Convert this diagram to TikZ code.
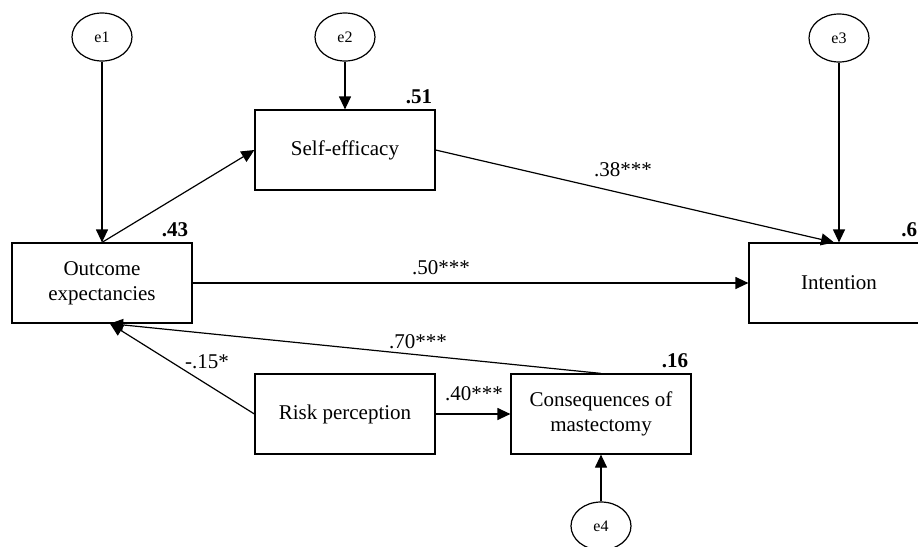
\documentclass[tikz,border=0pt]{standalone}
\usepackage{fontspec}
\setmainfont{Liberation Serif}
\usetikzlibrary{arrows.meta,calc,shapes.geometric}

\begin{document}
\begin{tikzpicture}[x=1pt,y=-1pt,line width=1.2pt,
	>={Triangle[length=13pt,width=12pt]},
	var/.style={draw,minimum width=180pt,minimum height=80pt,align=center,
		font=\fontsize{21}{25}\selectfont},
	err/.style={draw,ellipse,minimum width=60pt,minimum height=48pt,inner sep=0pt,
		font=\fontsize{16}{18}\selectfont},
	coef/.style={font=\fontsize{21}{24}\selectfont},
	rsq/.style={font=\bfseries\fontsize{21}{24}\selectfont,anchor=south east,inner sep=0pt}]
\useasboundingbox (0,0) rectangle (918,546);
%========================================
% Observed variables
%========================================
\node[var] (oe) at (102,283) {Outcome\\expectancies};
\node[var] (se) at (345,150) {Self-efficacy};
\node[var] (in) at (839,283) {Intention};
\node[var] (rp) at (345,414) {Risk perception};
\node[var] (cm) at (601,414) {Consequences of\\mastectomy};
% explained variance
\node[rsq] (r2oe) at ($(oe.north east)+(-4,-5)$) {.43};
\node[rsq] (r2se) at ($(se.north east)+(-3,-5)$) {.51};
\node[rsq] (r2in) at ($(in.north east)+(-12,-5)$) {.6};
\node[rsq] (r2cm) at ($(cm.north east)+(-3,-5)$) {.16};
%========================================
% Error terms
%========================================
\node[err] (e1) at (102,37) {e1};
\node[err] (e2) at (345,37) {e2};
\node[err] (e3) at (839,38) {e3};
\node[err] (e4) at (601,526) {e4};
\draw[->] (e1) -- (oe.north);
\draw[->] (e2) -- (se.north);
\draw[->] (e3) -- (in.north);
\draw[->] (e4) -- (cm.south);
%========================================
% Paths
%========================================
\coordinate (oein) at ($(oe.south)+(8,0)$);
\draw[->] (oe.north) -- (se.west);
\draw[->] (se.east) -- ($(in.north)+(-5,0)$);
\draw[->] (oe.east) -- (in.west);
\draw[->] (cm.north) -- (oein);
\draw[->] (rp.west) -- (oein);
\draw[->] (rp.east) -- (cm.west);
% path coefficients
\node[coef] (c38) at (623,170) {.38***};
\node[coef] (c50) at (441,268) {.50***};
\node[coef] (c70) at (418,342) {.70***};
\node[coef] (c15) at (207,362) {-.15*};
\node[coef] (c40) at (474,394) {.40***};
\end{tikzpicture}
\end{document}
